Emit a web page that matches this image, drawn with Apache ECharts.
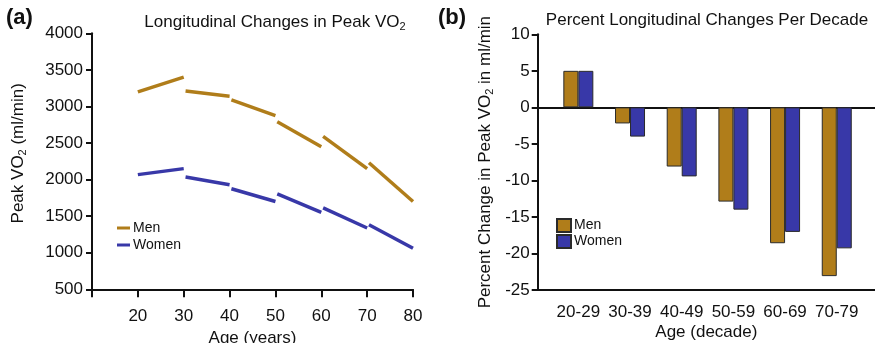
<!DOCTYPE html>
<html><head><meta charset="utf-8">
<script src="https://cdn.jsdelivr.net/npm/echarts@6/dist/echarts.min.js"></script>
<style>html,body{margin:0;padding:0;background:#fff}#c{width:875px;height:343px}</style>
</head><body><div id="c"></div>
<script>
// ---- Panel (a): longitudinal changes, one segment per decade ----
const decadeStarts = [20, 30, 40, 50, 60, 70];
const menStart   = [3200, 3210, 3090, 2790, 2590, 2230];
const menEnd     = [3400, 3140, 2875, 2450, 2150, 1700];
const womenStart = [2068, 2035, 1875, 1806, 1613, 1383];
const womenEnd   = [2150, 1930, 1700, 1553, 1338, 1062];
const ageTicks   = [20, 30, 40, 50, 60, 70, 80];

// ---- Panel (b): percent change per decade ----
const barCategories = ['20-29', '30-39', '40-49', '50-59', '60-69', '70-79'];
const menPct   = [5, -2.2, -8.1, -12.9, -18.6, -23.1];
const womenPct = [5, -4.0, -9.45, -14.0, -17.05, -19.3];

const MEN = '#B07D1A', WOMEN = '#3838A8';
const FONT = 'Liberation Sans, Arial, sans-serif';
const chart = echarts.init(document.getElementById('c'), null, {renderer: 'canvas'});

function segSeries(name, color, starts, ends) {
  return decadeStarts.map((a, i) => ({
    name: name, type: 'line', xAxisIndex: 0, yAxisIndex: 0,
    symbol: 'none', silent: true,
    lineStyle: {color: color, width: 3.5, cap: 'butt'},
    itemStyle: {color: color},
    data: [[i === 0 ? a : a + 0.4, starts[i]], [a + 10, ends[i]]]
  }));
}

const SUB = {fontSize: 11, verticalAlign: 'bottom', padding: [9, 0, 0, 0], fontFamily: FONT, color: '#111'};
const axisCommon = {
  axisLine: {lineStyle: {color: '#111', width: 2}},
  axisTick: {lineStyle: {color: '#111', width: 2}},
  axisLabel: {color: '#111', fontFamily: FONT, fontSize: 17, formatter: v => String(v)},
  splitLine: {show: false},
  nameTextStyle: {color: '#111', fontFamily: FONT, fontSize: 17, rich: {sub: SUB}}
};

const option = {
  animation: false,
  backgroundColor: '#fff',
  title: [
    {text: '(a)', left: 6, top: 7, padding: 0, textStyle: {fontFamily: FONT, fontSize: 22, fontWeight: 'bold', color: '#111'}},
    {text: 'Longitudinal Changes in Peak VO{sub|2}', left: 275, top: 12, padding: 0, textAlign: 'center',
      textStyle: {fontFamily: FONT, fontSize: 17, fontWeight: 'normal', color: '#111', rich: {sub: SUB}}},
    {text: '(b)', left: 438, top: 7, padding: 0, textStyle: {fontFamily: FONT, fontSize: 22, fontWeight: 'bold', color: '#111'}},
    {text: 'Percent Longitudinal Changes Per Decade', left: 707, top: 12, padding: 0, textAlign: 'center',
      textStyle: {fontFamily: FONT, fontSize: 17, fontWeight: 'normal', color: '#111'}}
  ],
  legend: [
    {data: ['Men', 'Women'], orient: 'vertical', left: 117, top: 221, itemGap: 3, padding: 0,
      icon: 'rect', itemWidth: 13, itemHeight: 3,
      textStyle: {fontFamily: FONT, fontSize: 14, color: '#111', padding: [0, 0, 0, -2]}},
    {data: ['Men bar', 'Women bar'], orient: 'vertical', left: 556, top: 218, itemGap: 1, padding: 0,
      icon: 'rect', itemWidth: 14, itemHeight: 13,
      formatter: n => n.split(' ')[0],
      textStyle: {fontFamily: FONT, fontSize: 14, color: '#111', padding: [0, 0, 0, -2]}}
  ],
  grid: [
    {left: 92, right: 462, top: 33.3, bottom: 53.7, containLabel: false, outerBoundsMode: 'none'},
    {left: 537.7, right: 0, top: 34.3, bottom: 53, containLabel: false, outerBoundsMode: 'none'},
    {left: 552.5, right: 12.4, top: 34.3, bottom: 53, containLabel: false, outerBoundsMode: 'none'}
  ],
  xAxis: [
    Object.assign({}, axisCommon, {type: 'value', gridIndex: 0, min: 10, max: 80, interval: 10,
      axisTick: {length: 8, lineStyle: {color: '#111', width: 2}},
      axisLabel: Object.assign({}, axisCommon.axisLabel, {margin: 19,
        formatter: v => ageTicks.indexOf(v) >= 0 ? String(v) : ''}),
      name: 'Age (years)', nameLocation: 'middle', nameGap: 38}),
    Object.assign({}, axisCommon, {type: 'value', gridIndex: 1, min: 0, max: 1,
      axisLine: {onZero: false, lineStyle: {color: '#111', width: 2}},
      axisTick: {show: false}, axisLabel: {show: false},
      name: 'Age (decade)', nameLocation: 'middle', nameGap: 34}),
    Object.assign({}, axisCommon, {type: 'value', gridIndex: 1, min: 0, max: 1, position: 'top',
      axisLine: {onZero: true, lineStyle: {color: '#111', width: 2}},
      axisTick: {show: false}, axisLabel: {show: false}}),
    Object.assign({}, axisCommon, {type: 'category', gridIndex: 2, data: barCategories,
      axisLine: {show: false, onZero: false},
      axisTick: {alignWithLabel: true, length: 9, lineStyle: {color: '#111', width: 2}},
      axisLabel: Object.assign({}, axisCommon.axisLabel, {margin: 14, interval: 0, formatter: null})})
  ],
  yAxis: [
    Object.assign({}, axisCommon, {type: 'value', gridIndex: 0, min: 500, max: 4000, interval: 500,
      axisTick: {length: 6, lineStyle: {color: '#111', width: 2}},
      axisLabel: Object.assign({}, axisCommon.axisLabel, {margin: 9}),
      name: 'Peak VO{sub|2} (ml/min)', nameLocation: 'middle', nameGap: 64,
      nameTextStyle: Object.assign({}, axisCommon.nameTextStyle, {padding: [0, 0, 0, 16]})}),
    Object.assign({}, axisCommon, {type: 'value', gridIndex: 1, min: -25, max: 10, interval: 5,
      axisTick: {length: 6, lineStyle: {color: '#111', width: 2}},
      axisLabel: Object.assign({}, axisCommon.axisLabel, {margin: 8}),
      name: 'Percent Change in Peak VO{sub|2} in ml/min', nameLocation: 'middle', nameGap: 42}),
    {type: 'value', gridIndex: 2, min: -25, max: 10, interval: 5, show: false}
  ],
  series: [].concat(
    segSeries('Men', MEN, menStart, menEnd),
    segSeries('Women', WOMEN, womenStart, womenEnd),
    [
      {name: 'Men bar', type: 'bar', xAxisIndex: 3, yAxisIndex: 2, barWidth: 15, barGap: '0%',
        itemStyle: {color: MEN, borderColor: '#2a2a2a', borderWidth: 1}, data: menPct},
      {name: 'Women bar', type: 'bar', xAxisIndex: 3, yAxisIndex: 2, barWidth: 15, barGap: '0%',
        itemStyle: {color: WOMEN, borderColor: '#2a2a2a', borderWidth: 1}, data: womenPct}
    ]
  )
};
chart.setOption(option);
</script>
</body></html>
